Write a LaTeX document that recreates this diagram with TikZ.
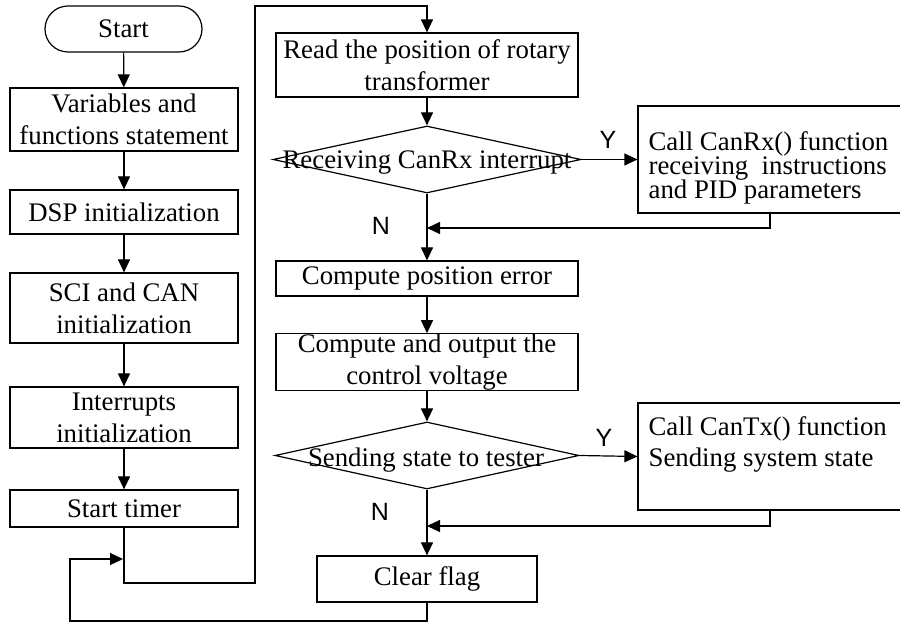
\documentclass[tikz,border=0pt]{standalone}
\usepackage{fontspec}
\setmainfont{Liberation Serif}
\newfontfamily\ynfont{Liberation Sans}
\usetikzlibrary{shapes.geometric,arrows.meta}

\begin{document}
\begin{tikzpicture}[x=0.5pt,y=-0.5pt,line width=0.6pt,
    >={Triangle[length=6.5pt,width=6pt]},
    box/.style={draw,rectangle,inner sep=0pt,align=center,font=\fontsize{13.4}{16}\selectfont},
    callbox/.style={draw,rectangle,minimum width=132pt,minimum height=53.5pt},
    calltext/.style={anchor=west,inner sep=0pt,align=left},
    decision/.style={draw,diamond,inner sep=0pt,minimum height=33.5pt},
    yn/.style={font=\ynfont\fontsize{12.5}{14}\selectfont}]
  \useasboundingbox(0,0)rectangle(900,624);

  % left column
  \node[box,rounded corners=11.5pt,minimum width=78.5pt,minimum height=23pt](start)at(123.5,29){Start};
  \node[box,minimum width=114pt,minimum height=31.5pt](vars)at(124,119.5){Variables and\\functions statement};
  \node[box,minimum width=114pt,minimum height=22pt](dsp)at(124,212){DSP initialization};
  \node[box,minimum width=114pt,minimum height=35pt](sci)at(124,308){SCI and CAN\\initialization};
  \node[box,minimum width=114pt,minimum height=30.5pt](intr)at(124,417.5){Interrupts\\initialization};
  \node[box,minimum width=114pt,minimum height=18.5pt](timer)at(124,508.5){Start timer};

  % right column
  \node[box,minimum width=151pt,minimum height=32pt](read)at(427,65){Read the position of rotary\\transformer};
  \node[decision,minimum width=154pt](rx)at(427,159.5){};
  \node[font=\fontsize{13.4}{16}\selectfont](rxtext)at(427,163){Receiving CanRx interrupt};
  \node[box,minimum width=151pt,minimum height=17.5pt](perr)at(427,278.5){Compute position error};
  \node[box,minimum width=151pt,minimum height=28pt](volt)at(427,362){Compute and output the\\control voltage};
  \node[decision,minimum width=152pt](tx)at(427,455.5){};
  \node[font=\fontsize{13.4}{16}\selectfont](txtext)at(426,460){Sending state to tester};
  \node[box,minimum width=110pt,minimum height=23pt](clr)at(427,579){Clear flag};

  % call boxes, text set apart from the frame
  \node[callbox](rxcall)at(770,159.5){};
  \node[calltext,font=\fontsize{13.4}{12.2}\selectfont](rxcalltext)at(648,168){Call CanRx() function\\receiving~ instructions\\and PID parameters};
  \node[callbox](txcall)at(770,456.5){};
  \node[calltext,font=\fontsize{13.4}{15.5}\selectfont](txcalltext)at(648,444){Call CanTx() function\\Sending system state};

  \node[yn](y1)at(608,140){Y};
  \node[yn](n1)at(381,226){N};
  \node[yn](y2)at(604,438){Y};
  \node[yn](n2)at(380,512){N};

  \coordinate(j1)at(427,228);
  \coordinate(j2)at(427,526);
  \coordinate(j0)at(123,559);

  \draw[->](start)--(vars);
  \draw[->](vars)--(dsp);
  \draw[->](dsp)--(sci);
  \draw[->](sci)--(intr);
  \draw[->](intr)--(timer);
  \draw[->](timer.south)|-(255,583)|-(427,6)--(read.north);

  \draw[->](read)--(rx);
  \draw[->](rx.east)--(rxcall.west);
  \draw[->](rx.south)--(perr.north);
  \draw[->](rxcall.south)|-(j1);
  \draw[->](perr)--(volt);
  \draw[->](volt)--(tx);
  \draw[->](tx.east)--(txcall.west);
  \draw[->](tx.south)--(clr.north);
  \draw[->](txcall.south)|-(j2);
  \draw[->](clr.south)|-(70,621)|-(j0);
\end{tikzpicture}
\end{document}
